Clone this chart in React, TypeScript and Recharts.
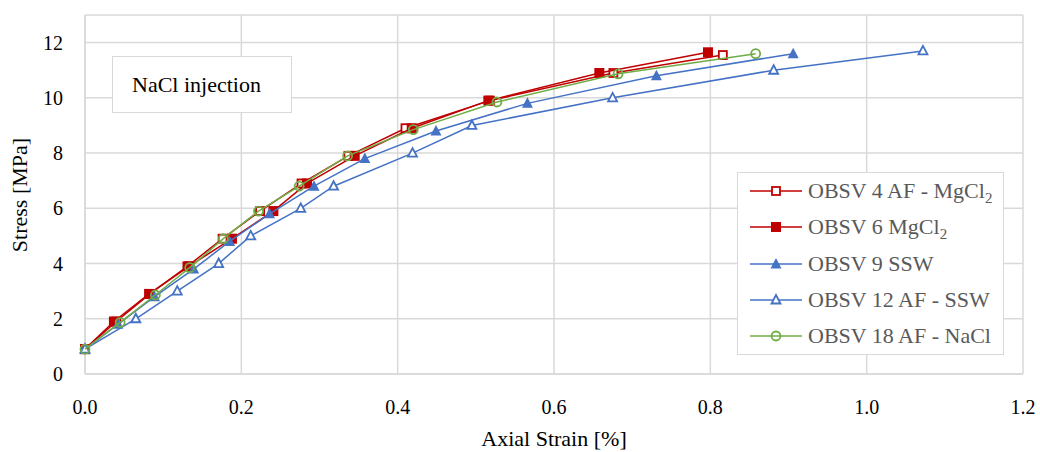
import { ScatterChart, Scatter, XAxis, YAxis, CartesianGrid } from "recharts";

const FONT = "Liberation Serif";
const GRID = "#D9D9D9";

const xTicks = [0, 0.2, 0.4, 0.6, 0.8, 1.0, 1.2];
const yTicks = [0, 2, 4, 6, 8, 10, 12];

// OBSV 4 AF - MgCl2
const strain4 = [0, 0.04, 0.083, 0.131, 0.176, 0.224, 0.277, 0.337, 0.41, 0.518, 0.676, 0.816];
const stress4 = [0.9, 1.9, 2.9, 3.9, 4.9, 5.9, 6.9, 7.9, 8.9, 9.9, 10.9, 11.55];
// OBSV 6 MgCl2
const strain6 = [0, 0.037, 0.082, 0.133, 0.188, 0.241, 0.284, 0.345, 0.418, 0.516, 0.658, 0.797];
const stress6 = [0.9, 1.9, 2.9, 3.9, 4.9, 5.9, 6.9, 7.9, 8.9, 9.9, 10.9, 11.65];
// OBSV 9 SSW
const strain9 = [0, 0.042, 0.089, 0.139, 0.185, 0.236, 0.293, 0.358, 0.449, 0.566, 0.731, 0.906];
const stress9 = [0.9, 1.8, 2.8, 3.8, 4.8, 5.8, 6.8, 7.8, 8.8, 9.8, 10.8, 11.6];
// OBSV 12 AF - SSW
const strain12 = [0, 0.065, 0.118, 0.171, 0.212, 0.276, 0.318, 0.419, 0.495, 0.675, 0.881, 1.072];
const stress12 = [0.9, 2.0, 3.0, 4.0, 5.0, 6.0, 6.8, 8.0, 9.0, 10.0, 11.0, 11.7];
// OBSV 18 AF - NaCl
const strain18 = [0, 0.045, 0.09, 0.134, 0.177, 0.222, 0.274, 0.336, 0.42, 0.527, 0.682, 0.858];
const stress18 = [0.9, 1.87, 2.86, 3.85, 4.9, 5.9, 6.8, 7.9, 8.85, 9.85, 10.87, 11.6];

const toPoints = (xs: number[], ys: number[]) => xs.map((x, i) => ({ x, y: ys[i] }));

type Kind = "squareOpen" | "squareFilled" | "triFilled" | "triOpen" | "circleOpen";

const series: { label: string; sub?: string; color: string; kind: Kind; data: { x: number; y: number }[] }[] = [
  { label: "OBSV 4 AF - MgCl", sub: "2", color: "#C00000", kind: "squareOpen", data: toPoints(strain4, stress4) },
  { label: "OBSV 6 MgCl", sub: "2", color: "#C00000", kind: "squareFilled", data: toPoints(strain6, stress6) },
  { label: "OBSV 9 SSW", color: "#4472C4", kind: "triFilled", data: toPoints(strain9, stress9) },
  { label: "OBSV 12 AF - SSW", color: "#4472C4", kind: "triOpen", data: toPoints(strain12, stress12) },
  { label: "OBSV 18 AF - NaCl", color: "#70AD47", kind: "circleOpen", data: toPoints(strain18, stress18) },
];

function Marker({ kind, color, cx, cy }: { kind: Kind; color: string; cx: number; cy: number }) {
  if (cx == null || cy == null) return null;
  switch (kind) {
    case "squareOpen":
      return <rect x={cx - 4} y={cy - 4} width={8} height={8} fill="#fff" stroke={color} strokeWidth={1.8} />;
    case "squareFilled":
      return <rect x={cx - 5} y={cy - 5} width={10} height={10} fill={color} />;
    case "triFilled":
      return <path d={`M${cx},${cy - 6}L${cx + 5.5},${cy + 4.5}L${cx - 5.5},${cy + 4.5}Z`} fill={color} />;
    case "triOpen":
      return (
        <path
          d={`M${cx},${cy - 5}L${cx + 4.5},${cy + 3.5}L${cx - 4.5},${cy + 3.5}Z`}
          fill="#fff"
          stroke={color}
          strokeWidth={1.8}
        />
      );
    default:
      return <circle cx={cx} cy={cy} r={4.5} fill="none" stroke={color} strokeWidth={1.8} />;
  }
}

export default function App() {
  return (
    <div style={{ position: "absolute", left: 0, top: 0, width: 1040, height: 452, background: "#fff", fontFamily: FONT }}>
      <ScatterChart width={1040} height={452} margin={{ top: 15, right: 17, bottom: 0, left: 0 }}>
        <CartesianGrid stroke={GRID} strokeWidth={1.5} />
        <XAxis
          type="number"
          dataKey="x"
          domain={[0, 1.2]}
          ticks={xTicks}
          tickFormatter={(v: number) => v.toFixed(1)}
          height={78}
          axisLine={{ stroke: GRID, strokeWidth: 1.5 }}
          tickLine={false}
          tickMargin={20}
          tick={{ fontSize: 20, fill: "#000", fontFamily: FONT }}
          label={{
            content: () => (
              <text x={554} y={446} textAnchor="middle" fontSize={22} fontFamily={FONT} fill="#000">
                Axial Strain [%]
              </text>
            ),
          }}
        />
        <YAxis
          type="number"
          dataKey="y"
          domain={[0, 13]}
          ticks={yTicks}
          width={85}
          axisLine={{ stroke: GRID, strokeWidth: 1.5 }}
          tickLine={false}
          tickMargin={16}
          tick={{ fontSize: 20, fill: "#000", fontFamily: FONT }}
          label={{
            content: () => (
              <text
                x={27}
                y={195}
                transform="rotate(-90 27 195)"
                textAnchor="middle"
                fontSize={22}
                fontFamily={FONT}
                fill="#000"
              >
                Stress [MPa]
              </text>
            ),
          }}
        />
        {series.map((s) => (
          <Scatter
            key={s.label + s.kind}
            data={s.data}
            fill={s.color}
            line={{ stroke: s.color, strokeWidth: 1.5 }}
            lineType="joint"
            isAnimationActive={false}
            shape={(p: any) => <Marker kind={s.kind} color={s.color} cx={p.cx} cy={p.cy} />}
          />
        ))}
      </ScatterChart>

      <div
        style={{
          position: "absolute",
          left: 112,
          top: 56,
          width: 180,
          height: 57,
          boxSizing: "border-box",
          border: `1.5px solid ${GRID}`,
          background: "#fff",
          display: "flex",
          alignItems: "center",
          paddingLeft: 19,
          fontSize: 22,
          color: "#000",
        }}
      >
        NaCl injection
      </div>

      <div
        style={{
          position: "absolute",
          left: 737,
          top: 172,
          width: 267,
          height: 183,
          boxSizing: "border-box",
          border: `1.5px solid ${GRID}`,
          background: "#fff",
        }}
      >
        {series.map((s) => (
          <div key={s.label + s.kind} style={{ height: 36.3, display: "flex", alignItems: "center" }}>
            <svg width={70} height={20} style={{ flex: "none" }}>
              <line x1={12} x2={64} y1={10} y2={10} stroke={s.color} strokeWidth={1.5} />
              <Marker kind={s.kind} color={s.color} cx={38} cy={10} />
            </svg>
            <span style={{ fontSize: 22, color: "#595959", whiteSpace: "nowrap", lineHeight: "22px" }}>
              {s.label}
              {s.sub && <sub style={{ fontSize: 15, lineHeight: 0 }}>{s.sub}</sub>}
            </span>
          </div>
        ))}
      </div>
    </div>
  );
}
